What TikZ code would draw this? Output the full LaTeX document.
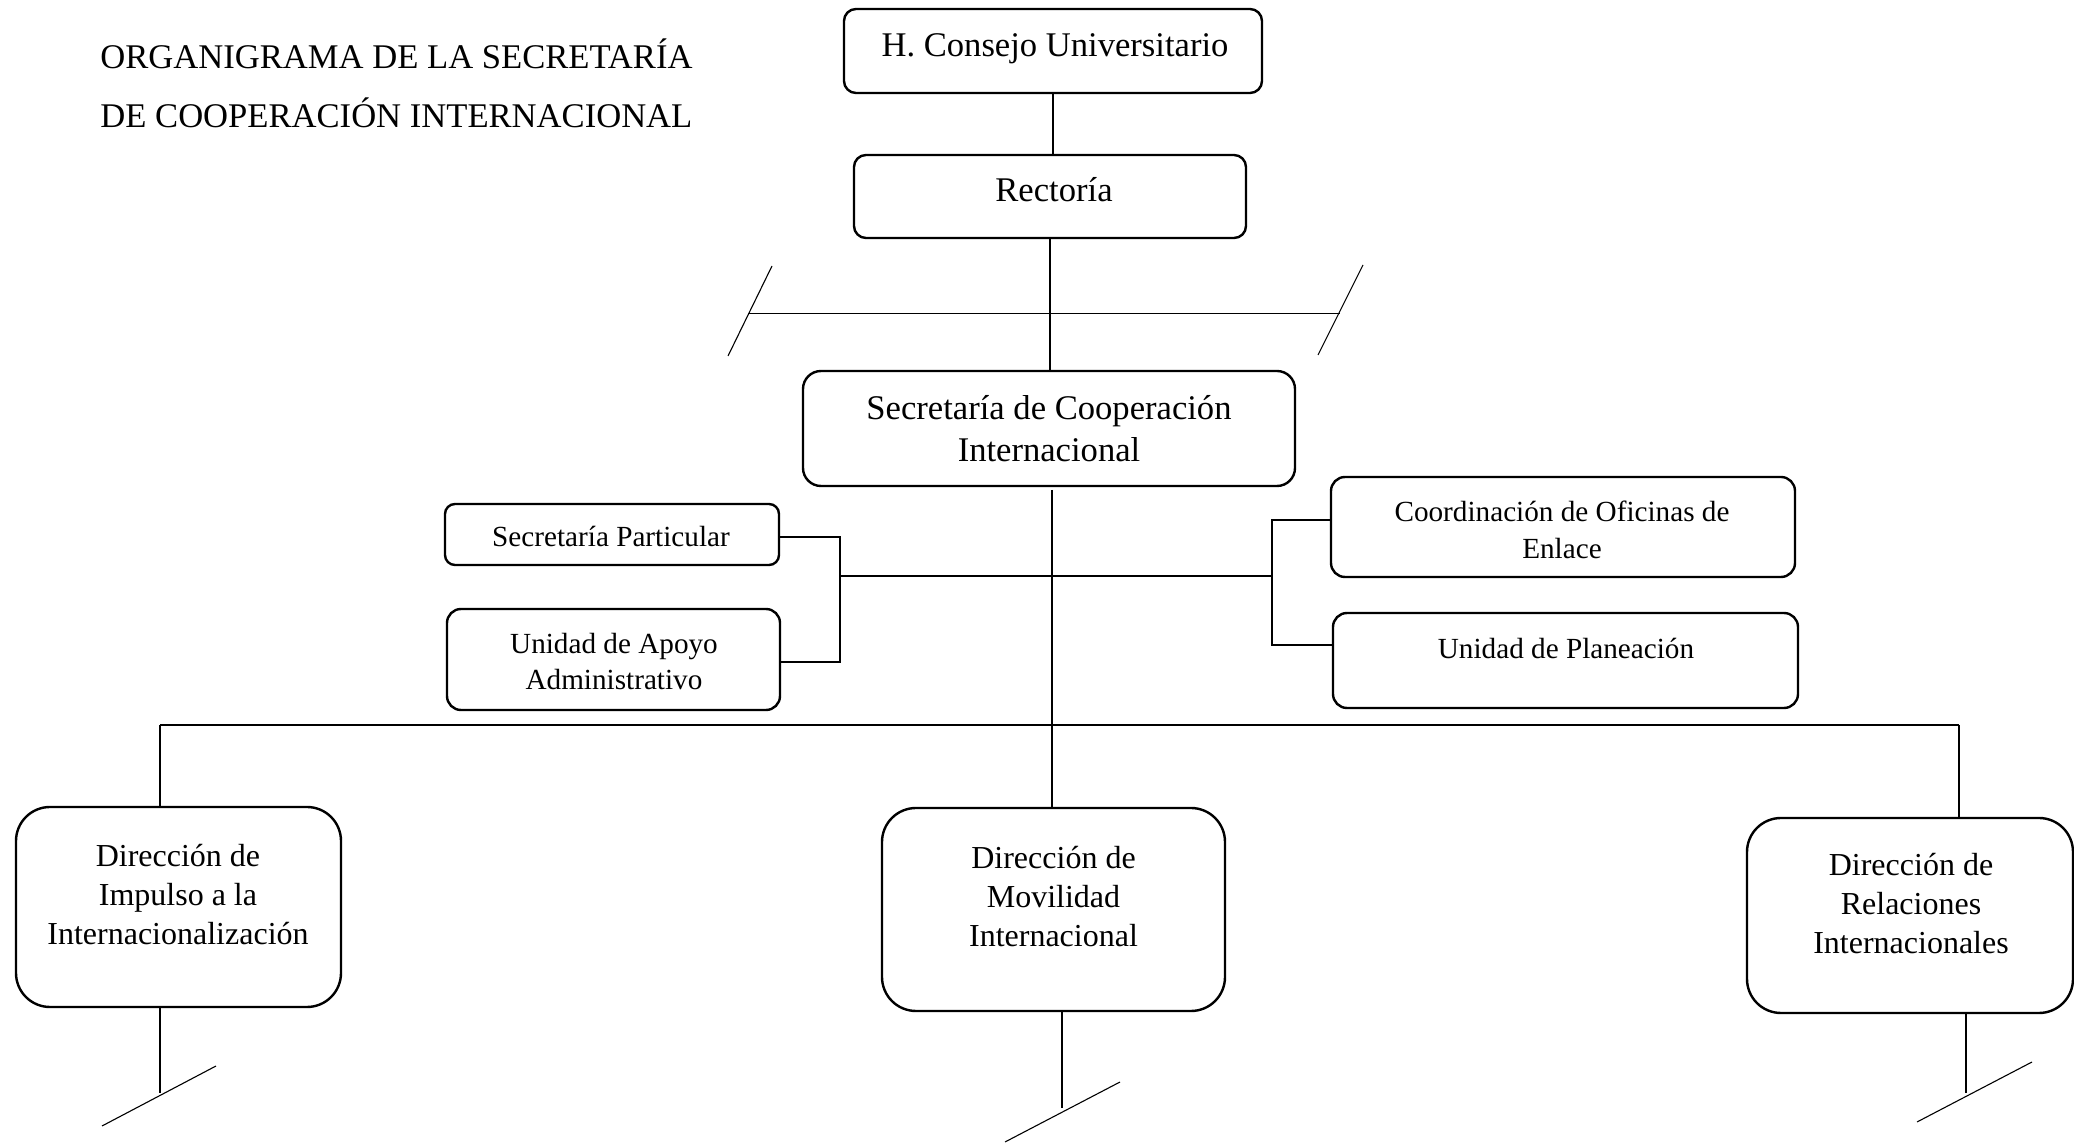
\documentclass[tikz,border=0pt]{standalone}
\usepackage{fontspec}
\setmainfont{Liberation Serif}
\begin{document}
\begin{tikzpicture}[x=0.5pt,y=-0.5pt,
  box/.style={draw, line width=1.2pt, rounded corners=#1, inner sep=0pt},
  box/.default=6pt,
  link/.style={line width=0.55pt},
  big/.style={font=\fontsize{17.3}{21}\selectfont, align=center, inner sep=0pt},
  mid/.style={font=\fontsize{16}{19.5}\selectfont, align=center, inner sep=0pt},
  small/.style={font=\fontsize{14.6}{18.3}\selectfont, align=center, inner sep=0pt}]
\useasboundingbox (0,0) rectangle (2074,1143);

% title
\node[font=\fontsize{17.3}{29.5}\selectfont, align=left, inner sep=0pt, anchor=west] (title) at (100,83)
  {ORGANIGRAMA DE LA SECRETARÍA\\DE COOPERACIÓN INTERNACIONAL};

% boxes
\node[box] (consejo) at (1053,51) [minimum width=209pt, minimum height=42pt] {};
\node[box] (rectoria) at (1050,196.5) [minimum width=196pt, minimum height=41.5pt] {};
\node[box=9pt] (sci) at (1049,428.5) [minimum width=246pt, minimum height=57.5pt] {};
\node[box=5pt] (secpart) at (612,534.5) [minimum width=167pt, minimum height=30.5pt] {};
\node[box=7pt] (apoyo) at (613.5,659.5) [minimum width=166.5pt, minimum height=50.5pt] {};
\node[box=7pt] (coord) at (1563,527) [minimum width=232pt, minimum height=50pt] {};
\node[box=7pt] (planea) at (1565.5,660.5) [minimum width=232.5pt, minimum height=47.5pt] {};
\node[box=17pt] (impulso) at (178.5,907) [minimum width=162.5pt, minimum height=100pt] {};
\node[box=17pt] (movilidad) at (1053.5,909.5) [minimum width=171.5pt, minimum height=101.5pt] {};
\node[box=17pt] (relaciones) at (1910,915.5) [minimum width=163pt, minimum height=97.5pt] {};

% labels
\node[big] (tconsejo) at (1055,49) {H. Consejo Universitario};
\node[big] (trectoria) at (1054,190) {Rectoría};
\node[big] (tsci) at (1049,429) {Secretaría de Cooperación\\Internacional};
\node[small] (tsecpart) at (611,536) {Secretaría Particular};
\node[small] (tapoyo) at (614,661.5) {Unidad de Apoyo\\Administrativo};
\node[small] (tcoord) at (1562,530) {Coordinación de Oficinas de\\Enlace};
\node[small] (tplanea) at (1566,648) {Unidad de Planeación};
\node[mid] (timpulso) at (178,895) {Dirección de\\Impulso a la\\Internacionalización};
\node[mid] (tmovilidad) at (1053.5,897) {Dirección de\\Movilidad\\Internacional};
\node[mid] (trelaciones) at (1911,903.5) {Dirección de\\Relaciones\\Internacionales};

% top chain
\draw[link] (consejo.south) -- (consejo.south |- rectoria.north);
\draw[link] (rectoria.south) -- (rectoria.south |- sci.north);

% cut line between Rectoría and the Secretaría
\coordinate (cutl) at (748,313.5);
\coordinate (cutr) at (1340,313.5);
\coordinate (sl1) at (772,266);
\coordinate (sl2) at (728,356);
\coordinate (sr1) at (1363,265);
\coordinate (sr2) at (1318,355);
\draw[link] (cutl) -- (cutr);
\draw[link] (sl1) -- (sl2);
\draw[link] (sr1) -- (sr2);

% main vertical axis
\coordinate (axtop) at (1052,490);
\draw[link] (axtop) -- (axtop |- movilidad.north);

% staff units
\coordinate (lt) at (840,537);
\coordinate (lb) at (840,662);
\coordinate (lm) at (840,576);
\coordinate (rt) at (1272,520);
\coordinate (rb) at (1272,645);
\coordinate (rm) at (1272,576);
\draw[link] (lt -| secpart.east) -- (lt) -- (lb) -- (lb -| apoyo.east);
\draw[link] (rt -| coord.west) -- (rt) -- (rb) -- (rb -| planea.west);
\draw[link] (lm) -- (rm);

% directorates bar
\coordinate (barl) at (160,725);
\coordinate (barr) at (1959,725);
\draw[link] (barl) -- (barr);
\draw[link] (barl) -- (barl |- impulso.north);
\draw[link] (barr) -- (barr |- relaciones.north);

% open continuations below the directorates
\coordinate (e1) at (160,1093);
\coordinate (e2) at (1062,1108);
\coordinate (e3) at (1966,1093);
\draw[link] (e1 |- impulso.south) -- (e1);
\draw[link] (e2 |- movilidad.south) -- (e2);
\draw[link] (e3 |- relaciones.south) -- (e3);
\coordinate (d1a) at (216,1066);
\coordinate (d1b) at (102,1126);
\coordinate (d2a) at (1120,1082);
\coordinate (d2b) at (1005,1142);
\coordinate (d3a) at (2032,1062);
\coordinate (d3b) at (1917,1122);
\draw[link] (d1a) -- (d1b);
\draw[link] (d2a) -- (d2b);
\draw[link] (d3a) -- (d3b);
\end{tikzpicture}
\end{document}
